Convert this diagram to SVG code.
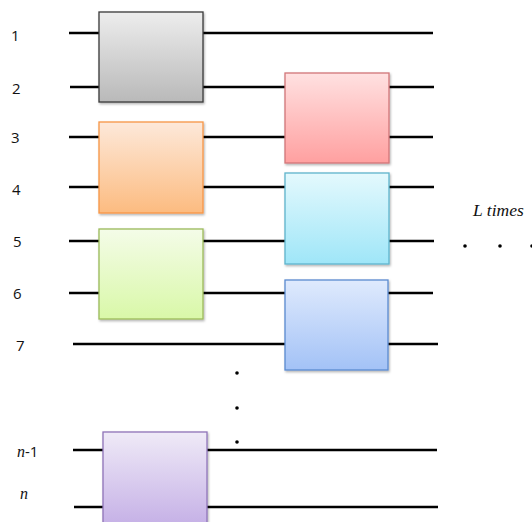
<svg xmlns="http://www.w3.org/2000/svg" width="532" height="522" viewBox="0 0 532 522">
<style>
.wire{stroke:#000;stroke-width:2.6;fill:none}
.lbl{font-family:"Open Sans","Liberation Sans",sans-serif;font-size:15px;fill:#111}
.it{font-family:"Liberation Serif",serif;font-style:italic;fill:#111}
.box{stroke-width:1.3}
.dot{fill:#000}
</style>
<defs>
<filter id="sh" x="-10%" y="-10%" width="125%" height="125%">
<feDropShadow dx="1" dy="1.5" stdDeviation="1" flood-color="#000" flood-opacity="0.3"/>
</filter>
<linearGradient id="gGray" x1="0" y1="0" x2="0" y2="1"><stop offset="0" stop-color="#ededed"/><stop offset="1" stop-color="#b9b9b9"/></linearGradient>
<linearGradient id="gOrange" x1="0" y1="0" x2="0" y2="1"><stop offset="0" stop-color="#fde9da"/><stop offset="1" stop-color="#fcbb80"/></linearGradient>
<linearGradient id="gGreen" x1="0" y1="0" x2="0" y2="1"><stop offset="0" stop-color="#f4fce8"/><stop offset="1" stop-color="#d9f8a8"/></linearGradient>
<linearGradient id="gRed" x1="0" y1="0" x2="0" y2="1"><stop offset="0" stop-color="#ffe1e1"/><stop offset="1" stop-color="#ffa0a0"/></linearGradient>
<linearGradient id="gCyan" x1="0" y1="0" x2="0" y2="1"><stop offset="0" stop-color="#e4f9fd"/><stop offset="1" stop-color="#9fe6f8"/></linearGradient>
<linearGradient id="gBlue" x1="0" y1="0" x2="0" y2="1"><stop offset="0" stop-color="#dfeafd"/><stop offset="1" stop-color="#a3c2f6"/></linearGradient>
<linearGradient id="gPurple" x1="0" y1="0" x2="0" y2="1"><stop offset="0" stop-color="#efeaf7"/><stop offset="1" stop-color="#c5b0e6"/></linearGradient>
</defs>
<rect width="532" height="522" fill="#fff"/>
<g id="connectors">
<line class="wire" x1="69" y1="33" x2="433" y2="33"/>
<line class="wire" x1="70" y1="87" x2="434" y2="87"/>
<line class="wire" x1="69" y1="137" x2="433" y2="137"/>
<line class="wire" x1="69" y1="187" x2="434" y2="187"/>
<line class="wire" x1="69" y1="241" x2="434" y2="241"/>
<line class="wire" x1="69" y1="293" x2="433" y2="293"/>
<line class="wire" x1="73" y1="344" x2="438" y2="344"/>
<line class="wire" x1="73" y1="450" x2="437" y2="450"/>
<line class="wire" x1="74" y1="507" x2="438" y2="507"/>
</g>
<g id="labels">
<text class="lbl" x="11" y="41">1</text>
<text class="lbl" x="12" y="94">2</text>
<text class="lbl" x="11" y="143">3</text>
<text class="lbl" x="12" y="195">4</text>
<text class="lbl" x="13" y="247">5</text>
<text class="lbl" x="13" y="299">6</text>
<text class="lbl" x="16" y="351">7</text>
<text x="17" y="457"><tspan class="it" font-size="16">n</tspan><tspan class="lbl">-1</tspan></text>
<text class="it" x="20" y="499" font-size="16">n</text>
<text class="it" x="473" y="216" font-size="17.5">L times</text>
</g>
<g id="gate-gray"><rect class="box" x="99" y="12" width="104" height="90" fill="url(#gGray)" stroke="#3a3a3a" filter="url(#sh)"/></g>
<g id="gate-orange"><rect class="box" x="99" y="122" width="104" height="91" fill="url(#gOrange)" stroke="#f79646" filter="url(#sh)"/></g>
<g id="gate-green"><rect class="box" x="99" y="229" width="104" height="90" fill="url(#gGreen)" stroke="#9bbb59" filter="url(#sh)"/></g>
<g id="gate-red"><rect class="box" x="285" y="73" width="104" height="90" fill="url(#gRed)" stroke="#d27679" filter="url(#sh)"/></g>
<g id="gate-cyan"><rect class="box" x="285" y="173" width="104" height="91" fill="url(#gCyan)" stroke="#5fb4cc" filter="url(#sh)"/></g>
<g id="gate-blue"><rect class="box" x="285" y="280" width="103" height="90" fill="url(#gBlue)" stroke="#5a8ad0" filter="url(#sh)"/></g>
<g id="gate-purple"><rect class="box" x="103" y="432" width="104" height="94" fill="url(#gPurple)" stroke="#8f73b8" filter="url(#sh)"/></g>
<g id="dots">
<circle class="dot" cx="237" cy="373" r="1.8"/>
<circle class="dot" cx="237" cy="408" r="1.8"/>
<circle class="dot" cx="237" cy="442" r="1.8"/>
<circle class="dot" cx="465" cy="246" r="1.8"/>
<circle class="dot" cx="500" cy="246" r="1.8"/>
<circle class="dot" cx="532" cy="246" r="1.8"/>
</g>
</svg>
